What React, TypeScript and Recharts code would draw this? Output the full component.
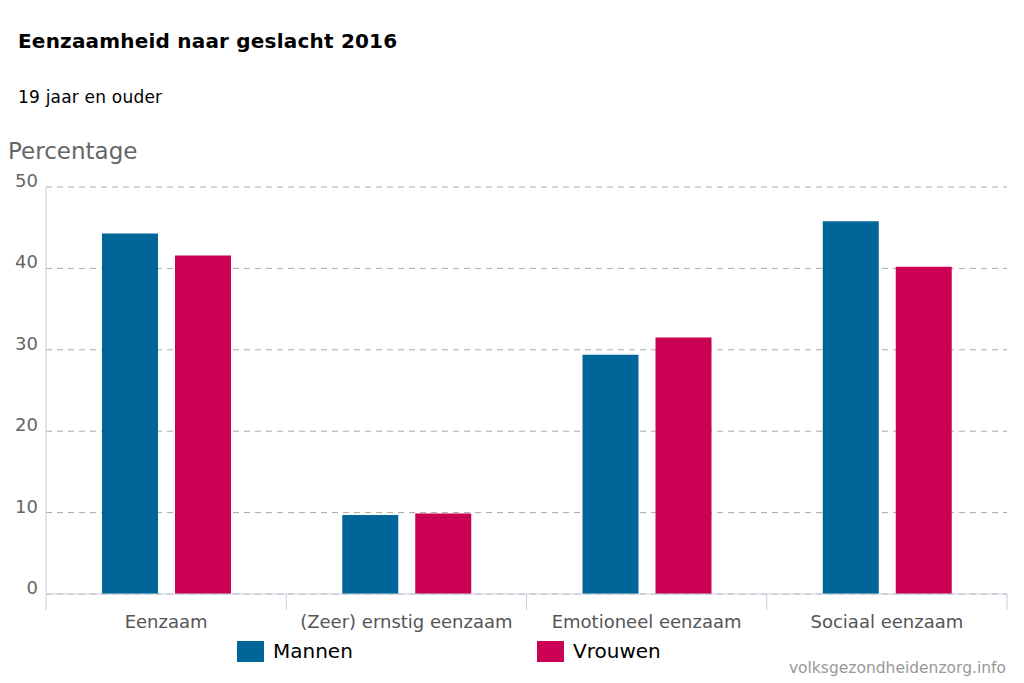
import React from "react";
import { BarChart, Bar, XAxis, YAxis, CartesianGrid, Legend } from "recharts";

const categories = ["Eenzaam", "(Zeer) ernstig eenzaam", "Emotioneel eenzaam", "Sociaal eenzaam"];
const mannen = [44.3, 9.7, 29.4, 45.8];
const vrouwen = [41.6, 9.9, 31.5, 40.2];
const yTicks = [0, 10, 20, 30, 40, 50];

const series = [
    { key: "mannen", name: "Mannen", color: "#006699" },
    { key: "vrouwen", name: "Vrouwen", color: "#cc0055" },
];

const data = categories.map((c, i) => ({ label: c, mannen: mannen[i], vrouwen: vrouwen[i] }));

const W = 1024;
const H = 683;
const MARGIN = { top: 187, right: 17, left: 0, bottom: 43 };
const Y_AXIS_W = 46;
const X_AXIS_H = 46;
const AXIS_COLOR = "#c4d0df";
const FONT = "'DejaVu Sans', Verdana, sans-serif";

const bandWidth = (W - MARGIN.left - MARGIN.right - Y_AXIS_W) / categories.length;

const YTick = (props: any) => {
    const { x, y, payload } = props;
    return (
        <text x={x} y={y} textAnchor="end" fill="#666" fontSize={18} fontFamily={FONT}>
            {payload.value}
        </text>
    );
};

const XTick = (props: any) => {
    const { x, y, payload, index } = props;
    const half = bandWidth / 2;
    return (
        <g>
            <line x1={x - half} x2={x - half} y1={y} y2={y + 16} stroke={AXIS_COLOR} />
            {index === categories.length - 1 && (
                <line x1={x + half} x2={x + half} y1={y} y2={y + 16} stroke={AXIS_COLOR} />
            )}
            <text x={x} y={y + 34} textAnchor="middle" fill="#555" fontSize={18} fontFamily={FONT}>
                {payload.value}
            </text>
        </g>
    );
};

const LegendContent = () => (
    <div style={{ display: "flex", fontFamily: FONT, fontSize: 20, color: "#000" }}>
        {series.map((s) => (
            <div key={s.key} style={{ display: "flex", alignItems: "center", width: 300 }}>
                <span style={{ display: "inline-block", width: 27, height: 21, background: s.color, marginRight: 9 }} />
                <span>{s.name}</span>
            </div>
        ))}
    </div>
);

const App: React.FC = () => {
    return (
        <div style={{ position: "absolute", top: 0, left: 0, width: W, height: H, background: "#fff", fontFamily: FONT }}>
            <div style={{ position: "absolute", left: 18, top: 29, fontSize: 20, fontWeight: "bold", color: "#000", letterSpacing: 0.2 }}>
                Eenzaamheid naar geslacht 2016
            </div>
            <div style={{ position: "absolute", left: 18, top: 87, fontSize: 17, color: "#000", letterSpacing: 0.2 }}>
                19 jaar en ouder
            </div>
            <div style={{ position: "absolute", left: 8, top: 138, fontSize: 23, color: "#666" }}>
                Percentage
            </div>
            <div style={{ position: "absolute", right: 18, top: 659, fontSize: 15.5, color: "#999" }}>
                volksgezondheidenzorg.info
            </div>
            <div style={{ position: "absolute", top: 0, left: 0 }}>
                <BarChart width={W} height={H} data={data} margin={MARGIN} barSize={56} barGap={17}>
                    <CartesianGrid vertical={false} stroke="#aaa" strokeDasharray="6 5" />
                    <XAxis
                        dataKey="label"
                        height={X_AXIS_H}
                        stroke={AXIS_COLOR}
                        tickLine={false}
                        tickSize={0}
                        tickMargin={0}
                        tick={<XTick />}
                        interval={0}
                    />
                    <YAxis
                        width={Y_AXIS_W}
                        domain={[0, 50]}
                        ticks={yTicks}
                        stroke={AXIS_COLOR}
                        tickLine={false}
                        tick={<YTick />}
                    />
                    <Legend
                        layout="horizontal"
                        verticalAlign="middle"
                        align="center"
                        wrapperStyle={{ top: 639, left: 237, width: 600 }}
                        content={<LegendContent />}
                    />
                    {series.map((s) => (
                        <Bar key={s.key} dataKey={s.key} name={s.name} fill={s.color} isAnimationActive={false} />
                    ))}
                </BarChart>
            </div>
        </div>
    );
};

export default App;
